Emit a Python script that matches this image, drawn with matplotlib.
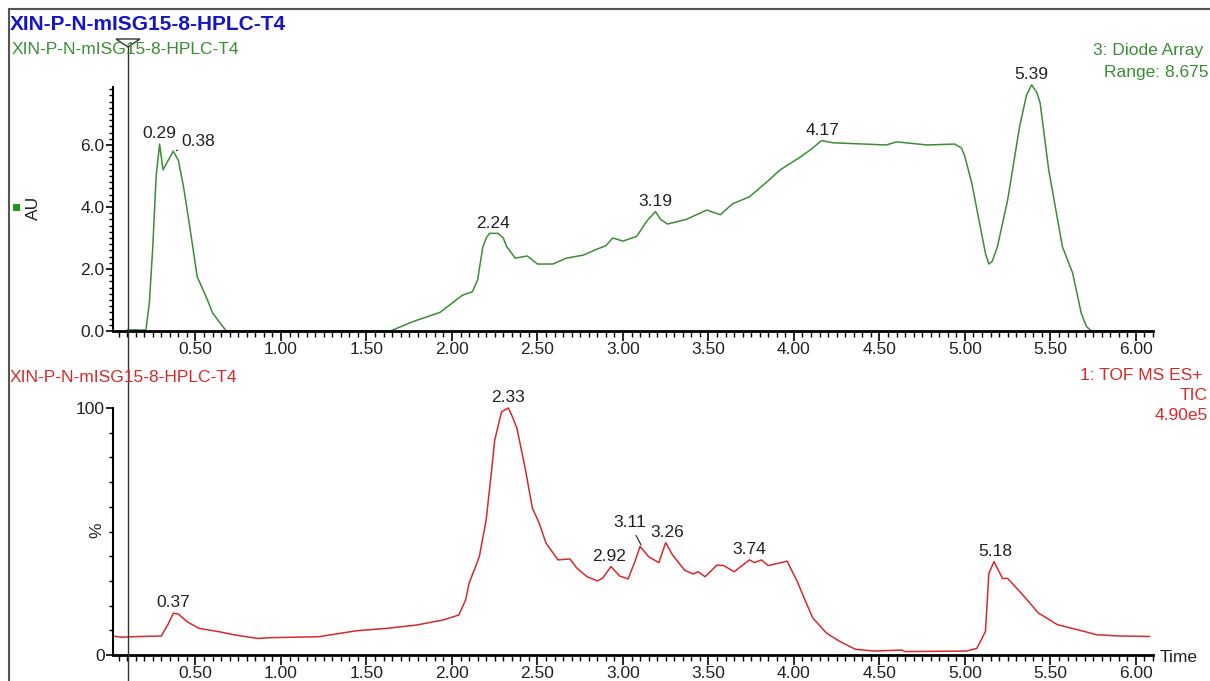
import matplotlib
matplotlib.use('Agg')
import matplotlib.pyplot as plt
from matplotlib.lines import Line2D
from matplotlib.patches import Polygon, Rectangle
from matplotlib.ticker import MultipleLocator, FixedLocator

plt.rcParams['font.family'] = ['Liberation Sans', 'DejaVu Sans']

sample = 'XIN-P-N-mISG15-8-HPLC-T4'

# Diode array trace (AU vs minutes)
uv_time = [0.10, 0.14, 0.18, 0.21, 0.23, 0.25, 0.27, 0.29, 0.31, 0.34,
           0.37, 0.40, 0.43, 0.46, 0.51, 0.57, 0.60, 0.68, 1.00, 1.30,
           1.64, 1.77, 1.93, 2.06, 2.12, 2.15, 2.18, 2.20, 2.22, 2.27,
           2.30, 2.32, 2.37, 2.44, 2.50, 2.59, 2.67, 2.77, 2.83, 2.90,
           2.94, 3.00, 3.08, 3.14, 3.19, 3.22, 3.26, 3.37, 3.49, 3.57,
           3.64, 3.74, 3.84, 3.92, 4.04, 4.11, 4.16, 4.23, 4.54, 4.60,
           4.78, 4.94, 4.98, 5.00, 5.04, 5.09, 5.12, 5.14, 5.16, 5.19,
           5.25, 5.32, 5.36, 5.39, 5.42, 5.44, 5.49, 5.57, 5.63, 5.68,
           5.71, 5.74, 6.00]
uv_au = [0.03, 0.04, 0.03, 0.03, 0.9, 2.7, 5.0, 6.03, 5.2, 5.5,
         5.8, 5.5, 4.65, 3.6, 1.75, 1.0, 0.58, 0.0, 0.0, 0.0,
         0.0, 0.3, 0.6, 1.15, 1.27, 1.65, 2.7, 3.0, 3.15, 3.15,
         3.0, 2.72, 2.35, 2.42, 2.16, 2.16, 2.35, 2.45, 2.6, 2.75,
         3.0, 2.9, 3.05, 3.55, 3.85, 3.6, 3.45, 3.6, 3.9, 3.75,
         4.1, 4.33, 4.8, 5.2, 5.62, 5.9, 6.14, 6.07, 6.0, 6.1,
         6.0, 6.03, 5.9, 5.62, 4.77, 3.36, 2.5, 2.16, 2.25, 2.72,
         4.23, 6.6, 7.6, 7.94, 7.7, 7.35, 5.2, 2.72, 1.87, 0.58,
         0.15, 0.0, 0.0]
uv_peaks = [0.29, 0.38, 2.24, 3.19, 4.17, 5.39]
uv_peak_au = [6.03, 5.8, 3.15, 3.85, 6.14, 7.94]

# TIC trace (% vs minutes)
ms_time = [0.02, 0.07, 0.135, 0.30, 0.34, 0.37, 0.40, 0.45, 0.52, 0.64,
           0.73, 0.865, 0.93, 1.22, 1.44, 1.62, 1.79, 1.95, 2.04, 2.08,
           2.10, 2.16, 2.20, 2.23, 2.25, 2.29, 2.33, 2.35, 2.38, 2.43,
           2.47, 2.51, 2.55, 2.62, 2.69, 2.73, 2.79, 2.85, 2.88, 2.93,
           2.98, 3.03, 3.07, 3.10, 3.15, 3.21, 3.25, 3.29, 3.36, 3.41,
           3.44, 3.48, 3.55, 3.59, 3.65, 3.74, 3.77, 3.81, 3.85, 3.96,
           4.02, 4.06, 4.11, 4.19, 4.27, 4.36, 4.47, 4.63, 4.65, 5.01,
           5.07, 5.12, 5.14, 5.17, 5.22, 5.25, 5.33, 5.43, 5.54, 5.70,
           5.77, 5.90, 6.08]
ms_pct = [7.6, 7.2, 7.4, 7.7, 12.5, 16.9, 16.6, 13.5, 10.8, 9.4,
          8.1, 6.7, 7.0, 7.4, 9.8, 10.8, 12.1, 14.2, 16.2, 22.3,
          29.0, 39.8, 54.7, 73.6, 87.0, 98.5, 100.0, 97.0, 91.8, 74.9,
          59.5, 53.4, 45.3, 38.5, 38.9, 35.2, 31.7, 30.0, 31.0, 35.8,
          32.0, 30.8, 37.8, 44.0, 39.8, 37.4, 45.5, 40.5, 34.4, 32.8,
          33.7, 31.7, 36.4, 36.2, 33.7, 38.5, 37.4, 38.5, 36.2, 38.0,
          29.7, 23.0, 15.0, 8.9, 5.4, 2.3, 1.6, 2.0, 1.4, 1.6,
          2.7, 9.5, 33.0, 37.8, 31.0, 31.0, 25.0, 17.0, 12.3, 9.5,
          8.2, 7.7, 7.5]
ms_peaks = [0.37, 2.33, 2.92, 3.11, 3.26, 3.74, 5.18]
ms_peak_pct = [16.9, 100.0, 35.8, 44.0, 45.5, 38.5, 37.8]

green = '#3c8c35'
red = '#d42a2a'
blue = '#1515c8'
W, H = 1210, 681
fs = 12.5


def fx(x):
    return x / W


def fy(y):
    return 1 - y / H


fig = plt.figure(figsize=(12.1, 6.81), dpi=100)

ax1 = fig.add_axes([fx(113), fy(331), fx(1153 - 113), (331 - 87) / H])
ax2 = fig.add_axes([fx(113), fy(655), fx(1153 - 113), (655 - 408) / H])

for ax in (ax1, ax2):
    for s in ('top', 'right'):
        ax.spines[s].set_visible(False)
    ax.spines['left'].set_linewidth(1.5)
    ax.spines['bottom'].set_linewidth(2)
    ax.set_xlim(0.0175, 6.1)
    ax.set_facecolor('none')
    ax.xaxis.set_major_locator(FixedLocator([0.5 * i for i in range(1, 13)]))
    ax.xaxis.set_minor_locator(MultipleLocator(0.05))
    ax.set_xticklabels(['%.2f' % (0.5 * i) for i in range(1, 13)])
    ax.tick_params(axis='x', which='major', length=7, width=1.2, labelsize=fs,
                   labelcolor='#222222', pad=1)
    ax.tick_params(axis='x', which='minor', length=4, width=1)
    ax.tick_params(axis='y', which='major', length=5, width=1.2, labelsize=fs,
                   labelcolor='#222222', pad=1)
    ax.tick_params(axis='y', which='minor', length=3, width=1)

# top panel: diode array
ax1.plot(uv_time, uv_au, color=green, lw=1.1, clip_on=False)
ax1.set_ylim(0, 7.87)
ax1.set_yticks([0, 2, 4, 6])
ax1.set_yticklabels(['0.0', '2.0', '4.0', '6.0'])
ax1.yaxis.set_minor_locator(MultipleLocator(0.2))

for t, v in zip(uv_peaks, uv_peak_au):
    if t == 0.38:
        ax1.annotate('%.2f' % t, xy=(t, v), xytext=(17, 7), textcoords='offset points',
                     ha='center', va='center', fontsize=fs, color='#222222',
                     annotation_clip=False,
                     arrowprops=dict(arrowstyle='-', color='#222222', lw=0.8,
                                     shrinkA=1, shrinkB=1))
    else:
        ax1.annotate('%.2f' % t, xy=(t, v), xytext=(0, 2), textcoords='offset points',
                     ha='center', va='bottom', fontsize=fs, color='#222222',
                     annotation_clip=False)

# bottom panel: TIC
ax2.plot(ms_time, ms_pct, color=red, lw=1.1, clip_on=False)
ax2.set_ylim(0, 100)
ax2.set_yticks([0, 100])
ax2.set_yticklabels(['0', '100'])
ax2.yaxis.set_minor_locator(MultipleLocator(10))

for t, v in zip(ms_peaks, ms_peak_pct):
    if t == 3.11:
        ax2.annotate('%.2f' % t, xy=(t, v), xytext=(-9, 17), textcoords='offset points',
                     ha='center', va='center', fontsize=fs, color='#222222',
                     annotation_clip=False,
                     arrowprops=dict(arrowstyle='-', color='#222222', lw=0.8,
                                     shrinkA=2, shrinkB=1))
    else:
        ax2.annotate('%.2f' % t, xy=(t, v), xytext=(0, 2), textcoords='offset points',
                     ha='center', va='bottom', fontsize=fs, color='#222222',
                     annotation_clip=False)

# labels and headers
fig.text(fx(10), fy(25), sample, color=blue, fontsize=15, fontweight='bold', va='center')
fig.text(fx(12), fy(50), sample, color=green, fontsize=fs, va='center')
fig.text(fx(1203), fy(50), '3: Diode Array', color=green, fontsize=fs, ha='right', va='center')
fig.text(fx(1208), fy(72), 'Range: 8.675', color=green, fontsize=fs, ha='right', va='center')
fig.text(fx(10), fy(377), sample, color=red, fontsize=fs, va='center')
fig.text(fx(1202), fy(376), '1: TOF MS ES+', color=red, fontsize=fs, ha='right', va='center')
fig.text(fx(1208), fy(396), 'TIC', color=red, fontsize=fs, ha='right', va='center')
fig.text(fx(1208), fy(416), '4.90e5', color=red, fontsize=fs, ha='right', va='center')
fig.text(fx(33), fy(208), 'AU', rotation=90, fontsize=fs, color='#222222', ha='center', va='center')
fig.text(fx(97), fy(530), '%', rotation=90, fontsize=fs, color='#222222', ha='center', va='center')
fig.text(fx(1160), fy(657), 'Time', fontsize=fs, color='#222222', ha='left', va='center')
fig.patches.append(Rectangle((fx(13), fy(211)), 7 / W, 7 / H, transform=fig.transFigure,
                             facecolor='#1c9a1c', edgecolor='none'))

# window frame
fig.lines.append(Line2D([fx(9), 1], [fy(9), fy(9)], transform=fig.transFigure,
                        color='#555555', lw=1.5))
fig.lines.append(Line2D([fx(9), fx(9)], [fy(9), 0], transform=fig.transFigure,
                        color='#555555', lw=1.5))

# time cursor
fig.lines.append(Line2D([fx(128), fx(128)], [fy(46), 0], transform=fig.transFigure,
                        color='#333333', lw=1))
fig.patches.append(Polygon([(fx(116), fy(39)), (fx(140), fy(39)), (fx(128), fy(47))],
                           closed=True, transform=fig.transFigure,
                           facecolor='none', edgecolor='#333333', lw=1))

fig.savefig('out.png', dpi=100)
